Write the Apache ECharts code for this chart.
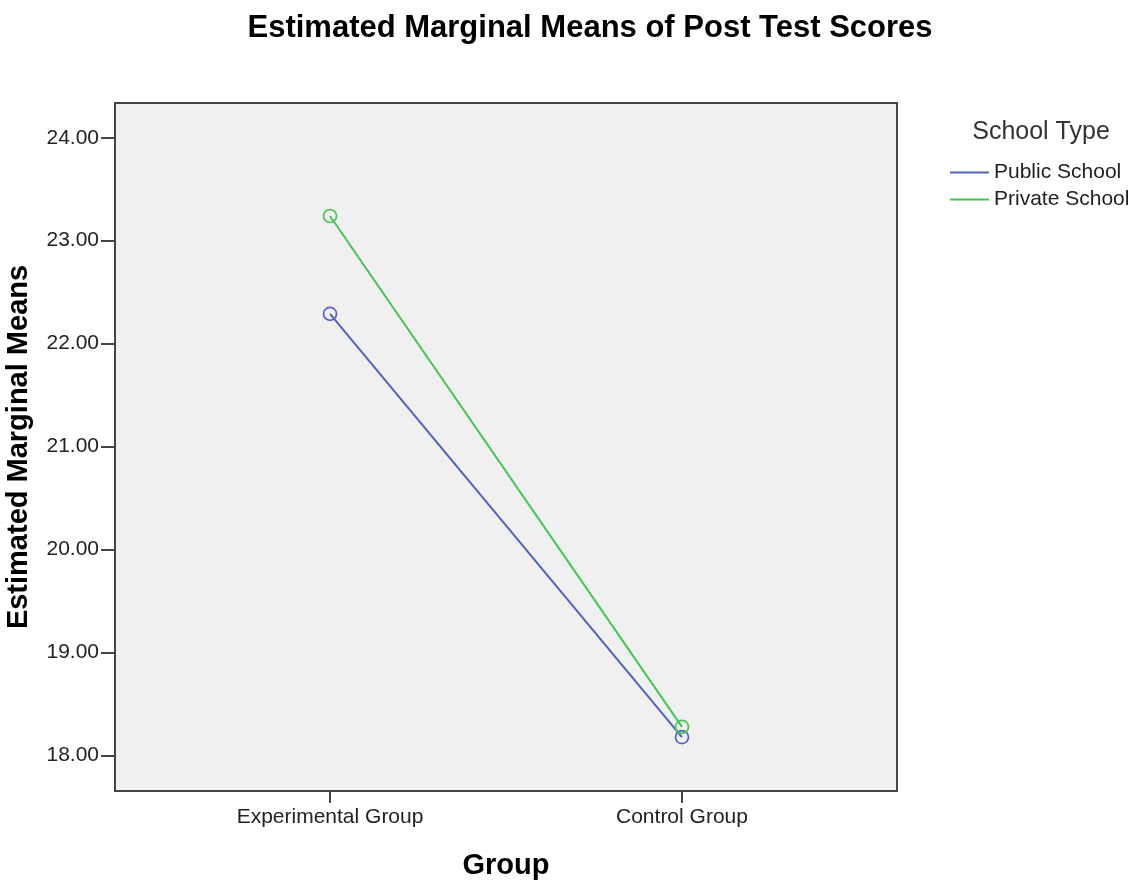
<html lang='en'>
<head>
    <meta charset='UTF-8'>
    <title>Estimated Marginal Means</title>
    <style>
        html, body { margin: 0; padding: 0; background: #ffffff; }
        #chart { width: 1136px; height: 882px; }
    </style>
</head>
<body>
    <div id='chart'></div>
</body>
<script src='https://cdn.jsdelivr.net/npm/echarts@6/dist/echarts.min.js'></script>
<script>
    var groups = ['Experimental Group', 'Control Group'];
    var schoolTypes = ['Public School', 'Private School'];
    var publicMeans = [22.29, 18.18];
    var privateMeans = [23.24, 18.28];
    var yTicks = [18, 19, 20, 21, 22, 23, 24];
    var colors = ['#4f62c2', '#45c652'];

    function toPoints(arr) {
        return arr.map(function (v, i) { return [i, v]; });
    }

    function makeSeries(name, values, color) {
        return {
            name: name,
            type: 'line',
            data: toPoints(values),
            symbol: 'circle', symbolSize: 13,
            lineStyle: { width: 2, color: color },
            itemStyle: { color: 'rgba(0,0,0,0)', borderColor: color, borderWidth: 1.7 }
        };
    }

    var font = 'Liberation Sans, Arial, sans-serif';
    var mychart = echarts.init(document.getElementById('chart'));
    var option = {
        animation: false,
        title: [{
            text: 'Estimated Marginal Means of Post Test Scores',
            left: 585, top: 8, textAlign: 'center',
            textStyle: { fontFamily: font, fontSize: 31, fontWeight: 'bold', color: '#000' }
        }, {
            text: 'School Type',
            left: 1036, top: 115, textAlign: 'center',
            textStyle: { fontFamily: font, fontSize: 25, fontWeight: 'normal', color: '#333' }
        }],
        legend: {
            orient: 'vertical',
            left: 950, top: 162, padding: 0,
            itemWidth: 39, itemHeight: 2, itemGap: 6,
            icon: 'rect',
            textStyle: { fontFamily: font, fontSize: 21, color: '#222', lineHeight: 21 },
            data: [
                { name: schoolTypes[0], itemStyle: { color: colors[0], borderWidth: 0 } },
                { name: schoolTypes[1], itemStyle: { color: colors[1], borderWidth: 0 } }
            ]
        },
        grid: {
            left: 115, top: 103, width: 782, height: 688,
            outerBoundsMode: 'none',
            show: true, backgroundColor: '#f0f0f0',
            borderColor: '#444', borderWidth: 2
        },
        xAxis: {
            type: 'value',
            min: -0.611, max: 1.611,
            name: 'Group', nameLocation: 'middle', nameGap: 60,
            nameTextStyle: { fontFamily: font, fontSize: 29, fontWeight: 'bold', color: '#000' },
            axisLine: { show: true, onZero: false, lineStyle: { color: '#444', width: 2 } },
            axisTick: { show: true, length: 12, customValues: [0, 1], lineStyle: { color: '#444', width: 2 } },
            axisLabel: {
                customValues: [0, 1], margin: 16,
                fontFamily: font, fontSize: 21, color: '#222',
                formatter: function (v) { return groups[Math.round(v)]; }
            },
            splitLine: { show: false }
        },
        yAxis: {
            type: 'value',
            min: 17.657, max: 24.337,
            name: 'Estimated Marginal Means', nameLocation: 'middle', nameGap: 82,
            nameTextStyle: { fontFamily: font, fontSize: 29, fontWeight: 'bold', color: '#000' },
            axisLine: { show: true, onZero: false, lineStyle: { color: '#444', width: 2 } },
            axisTick: { show: true, length: 14, customValues: yTicks, lineStyle: { color: '#444', width: 2 } },
            axisLabel: {
                customValues: yTicks, margin: 16,
                fontFamily: font, fontSize: 21, color: '#222',
                formatter: function (v) { return v.toFixed(2); }
            },
            splitLine: { show: false }
        },
        series: [
            makeSeries(schoolTypes[0], publicMeans, colors[0]),
            makeSeries(schoolTypes[1], privateMeans, colors[1])
        ]
    };
    mychart.setOption(option);
</script>
</html>
